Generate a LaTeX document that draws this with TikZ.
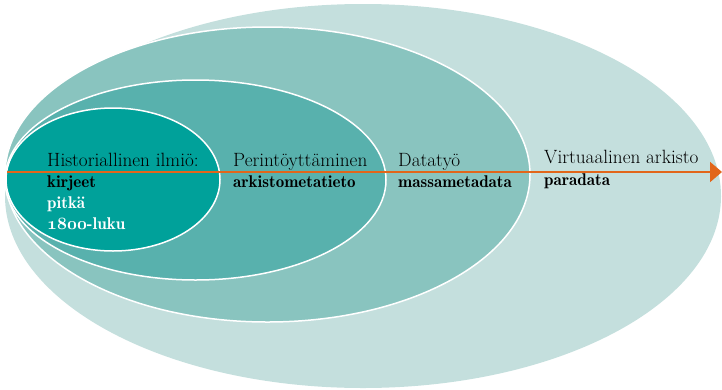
\documentclass[tikz,border=0pt]{standalone}
\usepackage{fontspec}
\newfontfamily\demifont{lmromandemi10-regular.otf}
\usetikzlibrary{shapes.geometric,arrows.meta}
\definecolor{cInner}{HTML}{00A19A}
\definecolor{cSecond}{HTML}{58B1AD}
\definecolor{cThird}{HTML}{89C4BF}
\definecolor{cOuter}{HTML}{C4DFDD}
\definecolor{cArrow}{HTML}{E2661A}
\tikzset{
  ring/.style={ellipse, inner sep=0pt, draw=white, line width=1.5pt},
  lbl/.style={anchor=base west, inner sep=0pt, font=\fontsize{19.2}{22}\selectfont},
  blbl/.style={lbl, font=\demifont\fontsize{17}{21}\selectfont},
}
\begin{document}
\begin{tikzpicture}[x=1pt,y=-1pt]
\useasboundingbox (0,0) rectangle (722,389);
\node[ring, draw=none, fill=cOuter, minimum width=716pt, minimum height=384pt] (outer) at (363,196) {};
\node[ring, fill=cThird, minimum width=525pt, minimum height=295pt] (third) at (267.5,174.5) {};
\node[ring, fill=cSecond, minimum width=381pt, minimum height=200pt] (second) at (195.5,180) {};
\node[ring, fill=cInner, minimum width=214pt, minimum height=143pt] (inner) at (113,179.5) {};

\coordinate (astart) at (7,172);
\coordinate (aend) at (722,172);
\draw[cArrow, line width=2pt, -{Triangle[length=12pt,width=20pt]}] (astart) -- (aend);

\node[lbl] (h1) at (47,166) {Historiallinen ilmiö:};
\node[blbl] (h2) at (47,187.5) {kirjeet};
\node[blbl, text=white] (h3) at (47,208.5) {pitkä};
\node[blbl, text=white] (h4) at (47,229.5) {{\usefont{OML}{cmm}{b}{it}1800}-luku};

\node[lbl] (p1) at (233,166) {Perintöyttäminen};
\node[blbl] (p2) at (233,187.5) {arkistometatieto};

\node[lbl] (d1) at (398,166) {Datatyö};
\node[blbl] (d2) at (398,187.5) {massametadata};

\node[lbl] (v1) at (544,163) {Virtuaalinen arkisto};
\node[blbl] (v2) at (544,185) {paradata};
\end{tikzpicture}
\end{document}
